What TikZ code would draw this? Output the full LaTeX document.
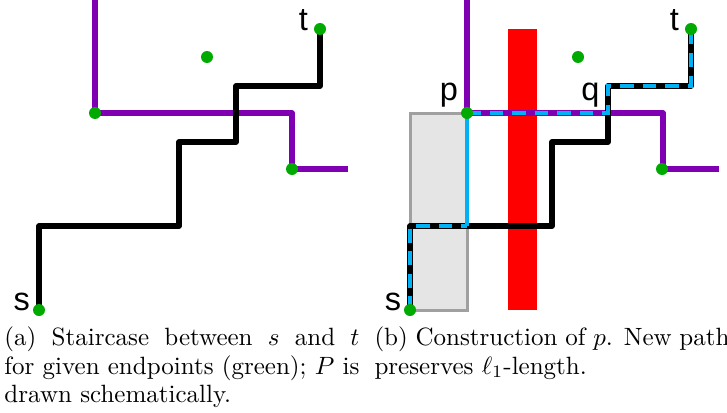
\documentclass[tikz,border=0pt]{standalone}
\usepackage{fontspec}
\newfontfamily\labelfont{Liberation Sans}
\usetikzlibrary{positioning}
\definecolor{pathpurple}{RGB}{127,0,178}
\definecolor{newblue}{RGB}{0,178,245}
\definecolor{dotgreen}{RGB}{0,170,0}
\definecolor{boxgray}{RGB}{229,229,229}
\definecolor{boxedge}{RGB}{160,160,160}

\begin{document}
\begin{tikzpicture}[x=0.4pt, y=-0.4pt,
                       dot/.style={circle, fill=dotgreen, inner sep=0pt, minimum size=4.8pt},
                       stair/.style={line width=2.1pt, line join=round},
                       border/.style={pathpurple, line width=2.1pt, line join=round},
                       newpath/.style={newblue, line width=1.3pt, dash pattern=on 5.5pt off 3.5pt},
                       lbl/.style={font=\labelfont\fontsize{13}{13}\selectfont, inner sep=0pt},
                       capt/.style={anchor=north west, text width=142pt, align=justify, inner sep=0pt,
                                    font=\fontsize{10}{11.5}\selectfont}]
        \useasboundingbox (0,0) rectangle (727,413);
        % (a) staircase
        \coordinate (sa) at (39,310);
        \coordinate (ta) at (320,29);
        \coordinate (ua) at (95,113);
        \coordinate (va) at (292,169);
        \coordinate (wa) at (207,57);
        \draw[border] (95,0) -- (ua) -- (292,113) -- (va) -- (348,169);
        \draw[stair] (sa) -- (39,226) -- (179,226) -- (179,142) -- (236,142) -- (236,86) -- (320,86) -- (ta);
        \foreach \pt in {sa,ta,ua,va,wa} \node[dot] (\pt dot) at (\pt) {};
        \node[lbl, left=0.8pt of sadot, yshift=3.4pt] {s};
        \node[lbl, left=2pt of tadot, yshift=3.4pt] {t};
        % (b) construction of p
        \coordinate (sb) at (410,310);
        \coordinate (tb) at (691,29);
        \coordinate (p) at (467,113);
        \coordinate (q) at (608,113);
        \coordinate (vb) at (662,169);
        \coordinate (wb) at (578,57);
        \coordinate (b1) at (410,226);
        \coordinate (b2) at (467,226);
        \coordinate (b3) at (608,86);
        \fill[red] (508,29) rectangle (537,310);
        \draw[boxedge, fill=boxgray, line width=1.2pt] (sb) rectangle (p);
        \draw[border] (467,0) -- (p) -- (663,113) -- (663,169) -- (719,169);
        \draw[stair] (sb) -- (b1) -- (552,226) -- (552,142) -- (608,142) -- (b3) -- (691,86) -- (tb);
        % new path
        \draw[newpath] (sb) -- (b1) -- (b2);
        \draw[newpath, solid] (b2) -- (p);
        \draw[newpath] (p) -- (q) -- (b3) -- (691,86) -- (tb);
        \foreach \pt in {sb,tb,p,vb,wb} \node[dot] (\pt dot) at (\pt) {};
        \node[lbl, left=0.8pt of sbdot, yshift=3.4pt] {s};
        \node[lbl, left=2pt of tbdot, yshift=3.4pt] {t};
        \node[lbl, above left=0.4pt and 1.6pt of pdot] {p};
        \node[lbl, above left=2pt and 3.2pt of q] {q};
        % captions
        \node[capt] (capa) at (4,326) {(a) Staircase between $s$ and $t$ for given endpoints (green); $P$ is drawn schematically.};
        \node[capt] (capb) at (374,326) {(b) Construction of $p$. New path preserves $\ell_1$-length.};
    \end{tikzpicture}
\end{document}
